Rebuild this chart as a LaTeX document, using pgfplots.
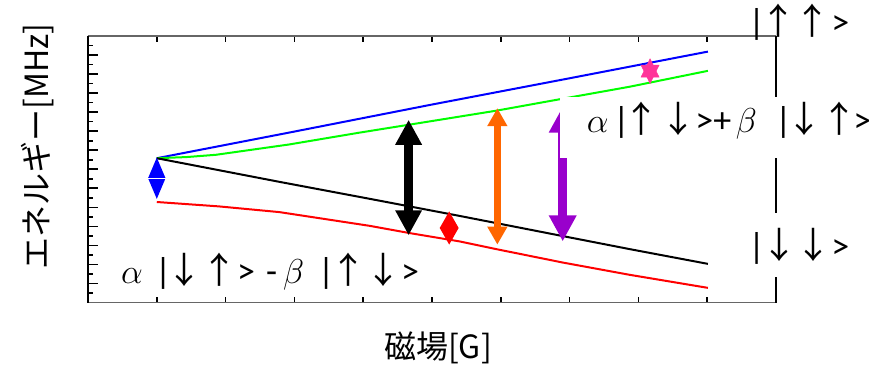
\documentclass[border=0pt]{standalone}
\usepackage{fontspec}
\usepackage{pgfplots}
\pgfplotsset{compat=1.18}
\usetikzlibrary{arrows.meta}
\setmainfont{Carlito}
\newfontfamily\jp{Noto Sans CJK JP}
\definecolor{myorange}{RGB}{255,102,0}
\definecolor{mypurple}{RGB}{153,0,204}
\definecolor{mypink}{RGB}{255,51,153}
\definecolor{mygreen}{RGB}{0,255,0}
\newcommand\gl[2]{\makebox[0pt][l]{\hspace*{#1}\makebox[0pt][c]{#2}}}
\newcommand\up{{\jp ↑}}
\newcommand\dn{{\jp ↓}}
\newcommand\lbl{\fontsize{18}{22}\selectfont}
\begin{document}
\begin{tikzpicture}
\begin{axis}[
  at={(0,0)}, anchor=south west, scale only axis,
  width=344pt, height=133.25pt,
  xmin=-1, xmax=9, ymin=0, ymax=14,
  xtick={0,...,8}, ytick={0,...,14}, minor y tick num=1,
  xticklabels={}, yticklabels={},
  ytick pos=left,
  tick align=inside,
  major tick length=5pt, minor tick length=2.5pt,
  tick style={black, line width=0.8pt},
  xtick style={/pgfplots/major tick length=3pt},
  separate axis lines,
  x axis line style={draw=black!60, line width=0.8pt},
  y axis line style={draw=black, line width=1pt},
  clip=false,
]
% energy levels
\addplot[blue, line width=1pt] coordinates {
  (0,7.58) (2,8.98) (4,10.40) (6,11.78) (8.01,13.18)};
\addplot[mygreen, line width=1pt] coordinates {
  (0,7.58) (0.43,7.64) (0.86,7.76) (1.92,8.30) (2.94,8.92) (3.96,9.51)
  (4.94,10.08) (5.86,10.68) (6.88,11.34) (8.01,12.17)};
\addplot[black, line width=1pt] coordinates {
  (0,7.58) (1.78,6.34) (3.09,5.45) (4.40,4.55) (5.90,3.49) (6.88,2.80) (8.01,2.03)};
\addplot[red, line width=1pt] coordinates {
  (0,5.28) (0.90,5.05) (1.78,4.75) (3.09,4.03) (3.67,3.65) (4.40,3.21)
  (4.94,2.80) (5.90,2.10) (6.88,1.45) (8.01,0.77)};
% transitions
\draw[blue, line width=1pt, {Triangle[width=8.5pt,length=10.4pt]}-{Triangle[width=8.5pt,length=10.4pt]}]
  (axis cs:0,7.62) -- (axis cs:0,5.44);
\draw[white, line width=0.7pt] ([xshift=-5pt]axis cs:0,6.53) -- ([xshift=5pt]axis cs:0,6.53);
\draw[black, line width=4.7pt, {Triangle[width=12.5pt,length=12.5pt]}-{Triangle[width=12.5pt,length=12.5pt]}]
  (axis cs:3.66,9.60) -- (axis cs:3.66,3.53);
\draw[red, line width=1pt, {Triangle[width=9.2pt,length=8.35pt]}-{Triangle[width=9.2pt,length=8.35pt]}]
  (axis cs:4.25,4.79) -- (axis cs:4.25,3.04);
\draw[myorange, line width=3.4pt, {Triangle[width=9.5pt,length=9pt]}-{Triangle[width=9.5pt,length=9pt]}]
  (axis cs:4.95,10.21) -- (axis cs:4.95,3.04);
\draw[mypurple, line width=4.7pt, {Triangle[width=13pt,length=13pt]}-{Triangle[width=13pt,length=13pt]}]
  (axis cs:5.90,10.29) -- (axis cs:5.90,3.21);
\draw[mypink, line width=0.2pt, {Triangle[width=9.3pt,length=9.5pt]}-{Triangle[width=9.3pt,length=9.5pt]}]
  (axis cs:7.17,12.83) -- (axis cs:7.17,11.48);
% label backgrounds
\fill[white] (axis cs:5.858,10.80) rectangle (axis cs:11,7.60);
\fill[white] (axis cs:8.335,4.72) rectangle (axis cs:11,1.36);
% state labels
\node[anchor=base west, inner sep=0pt] at (axis cs:8.70,14.105)
  {\lbl\gl{0pt}{|}\gl{11pt}{\up}\gl{28pt}{\up}\gl{41.75pt}{>}};
\node[anchor=base west, inner sep=0pt] at (axis cs:6.266,8.91)
  {\lbl\gl{4.25pt}{$\alpha$}\gl{16pt}{|}\gl{26pt}{\up}\gl{44.5pt}{\dn}\gl{57.5pt}{>}\gl{66.5pt}{+}\gl{78.5pt}{$\beta$}\gl{97pt}{|}\gl{107.5pt}{\dn}\gl{125pt}{\up}\gl{136.5pt}{>}};
\node[anchor=base west, inner sep=0pt] at (axis cs:8.70,2.31)
  {\lbl\gl{0pt}{|}\gl{11.15pt}{\dn}\gl{28.35pt}{\dn}\gl{41.75pt}{>}};
\node[anchor=base west, inner sep=0pt] at (axis cs:-0.5246,1.00)
  {\lbl\gl{5pt}{$\alpha$}\gl{20.5pt}{|}\gl{31pt}{\dn}\gl{48.5pt}{\up}\gl{62pt}{>}\gl{74.75pt}{-}\gl{85.75pt}{$\beta$}\gl{102pt}{|}\gl{113pt}{\up}\gl{130.5pt}{\dn}\gl{144pt}{>}};
% axis titles
\node[font=\jp\fontsize{16}{19}\selectfont, rotate=90] at (axis description cs:-0.0727,0.585) {エネルギー[MHz]};
\node[font=\jp\fontsize{16}{19}\selectfont] at (axis description cs:0.5087,-0.170) {磁場[G]};
\end{axis}
\pgfresetboundingbox
\path[use as bounding box] (-44pt,-31.75pt) rectangle (390.5pt,151.25pt);
\end{tikzpicture}
\end{document}
